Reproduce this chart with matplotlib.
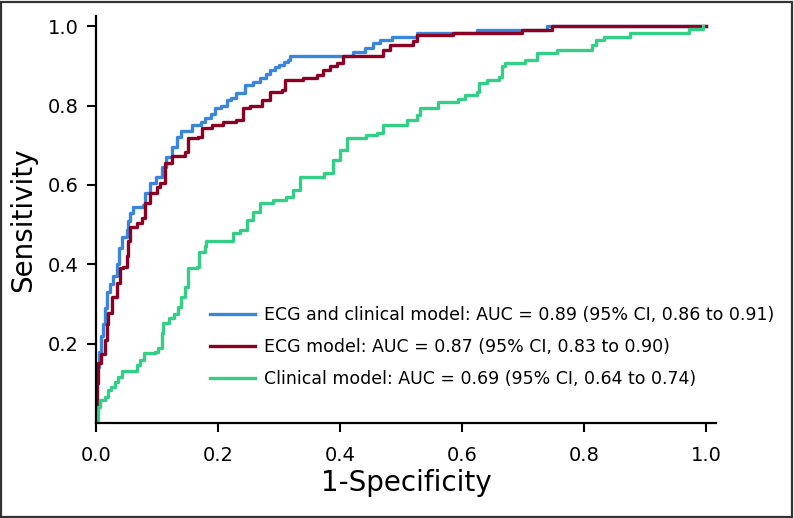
import matplotlib
matplotlib.use("Agg")
import matplotlib.pyplot as plt
from matplotlib.patches import Rectangle

plt.rcParams['font.family'] = ['DejaVu Sans']

combined_fpr = [0.000, 0.000, 0.002, 0.005, 0.008, 0.012, 0.015, 0.018, 0.023, 0.028, 0.034, 0.038,
                0.042, 0.050, 0.053, 0.056, 0.061, 0.077, 0.080, 0.089, 0.098, 0.108, 0.115, 0.124,
                0.132, 0.140, 0.157, 0.172, 0.179, 0.188, 0.195, 0.205, 0.214, 0.222, 0.230, 0.244,
                0.258, 0.269, 0.278, 0.285, 0.293, 0.300, 0.308, 0.315, 0.318, 0.405, 0.421, 0.440,
                0.454, 0.466, 0.485, 0.526, 0.624, 0.739, 1.000]
combined_tpr = [0.000, 0.100, 0.140, 0.180, 0.220, 0.250, 0.290, 0.330, 0.350, 0.370, 0.400, 0.440,
                0.470, 0.487, 0.510, 0.530, 0.545, 0.550, 0.580, 0.605, 0.620, 0.646, 0.670, 0.697,
                0.720, 0.735, 0.750, 0.760, 0.770, 0.780, 0.794, 0.800, 0.815, 0.820, 0.832, 0.852,
                0.860, 0.870, 0.880, 0.890, 0.897, 0.903, 0.910, 0.915, 0.924, 0.924, 0.936, 0.945,
                0.958, 0.966, 0.974, 0.983, 0.991, 1.000, 1.000]

ecg_fpr = [0.000, 0.001, 0.002, 0.004, 0.009, 0.015, 0.018, 0.020, 0.026, 0.034, 0.039, 0.044,
           0.050, 0.053, 0.056, 0.067, 0.075, 0.080, 0.089, 0.100, 0.105, 0.113, 0.124, 0.146,
           0.151, 0.167, 0.173, 0.190, 0.208, 0.230, 0.241, 0.252, 0.272, 0.285, 0.304, 0.310,
           0.340, 0.362, 0.372, 0.384, 0.395, 0.405, 0.470, 0.482, 0.520, 0.526, 0.585, 0.698,
           0.747, 1.000]
ecg_tpr = [0.000, 0.033, 0.100, 0.150, 0.175, 0.210, 0.250, 0.277, 0.318, 0.353, 0.390, 0.394,
           0.420, 0.460, 0.495, 0.504, 0.517, 0.555, 0.580, 0.596, 0.605, 0.656, 0.672, 0.684,
           0.718, 0.722, 0.744, 0.752, 0.760, 0.764, 0.794, 0.800, 0.815, 0.835, 0.840, 0.865,
           0.870, 0.878, 0.890, 0.899, 0.907, 0.924, 0.940, 0.953, 0.962, 0.979, 0.984, 0.991,
           1.000, 1.000]

clin_fpr = [0.000, 0.000, 0.003, 0.007, 0.015, 0.020, 0.025, 0.031, 0.036, 0.042, 0.061, 0.067,
            0.072, 0.078, 0.097, 0.102, 0.108, 0.110, 0.119, 0.127, 0.135, 0.140, 0.146, 0.151,
            0.165, 0.168, 0.179, 0.181, 0.225, 0.236, 0.247, 0.258, 0.269, 0.290, 0.312, 0.323,
            0.334, 0.373, 0.389, 0.400, 0.411, 0.443, 0.460, 0.471, 0.509, 0.526, 0.531, 0.561,
            0.594, 0.605, 0.624, 0.627, 0.640, 0.660, 0.665, 0.670, 0.703, 0.722, 0.755, 0.813,
            0.820, 0.832, 0.875, 0.971, 0.995]
clin_tpr = [0.000, 0.008, 0.040, 0.058, 0.066, 0.083, 0.090, 0.104, 0.117, 0.130, 0.130, 0.146,
            0.160, 0.176, 0.180, 0.190, 0.227, 0.252, 0.265, 0.275, 0.293, 0.318, 0.344, 0.390,
            0.394, 0.432, 0.445, 0.460, 0.478, 0.487, 0.512, 0.533, 0.554, 0.562, 0.570, 0.588,
            0.621, 0.630, 0.663, 0.689, 0.718, 0.726, 0.730, 0.752, 0.764, 0.777, 0.794, 0.810,
            0.818, 0.827, 0.835, 0.856, 0.865, 0.873, 0.899, 0.907, 0.916, 0.933, 0.941, 0.953,
            0.966, 0.974, 0.983, 0.993, 1.000]

labels = ["ECG and clinical model: AUC = 0.89 (95% CI, 0.86 to 0.91)",
          "ECG model: AUC = 0.87 (95% CI, 0.83 to 0.90)",
          "Clinical model: AUC = 0.69 (95% CI, 0.64 to 0.74)"]
colors = ["#3a86da", "#8c0023", "#34cf86"]

xticks = [0.0, 0.2, 0.4, 0.6, 0.8, 1.0]
yticks = [0.2, 0.4, 0.6, 0.8, 1.0]

fig = plt.figure(figsize=(7.94, 5.18), dpi=100)
ax = fig.add_axes([96/794, 1 - 423/518, 620/794, 407/518])

for fx, ty, c, lab in zip([combined_fpr, ecg_fpr, clin_fpr],
                          [combined_tpr, ecg_tpr, clin_tpr], colors, labels):
    ax.plot(fx, ty, drawstyle='steps-post', color=c, lw=2.4, label=lab)

ax.set_xlim(0, 1.016)
ax.set_ylim(0, 1.026)
ax.set_xticks(xticks)
ax.set_xticklabels([f"{v:.1f}" for v in xticks])
ax.set_yticks(yticks)
ax.set_yticklabels([f"{v:.1f}" for v in yticks])
ax.tick_params(axis='both', direction='out', length=6.5, width=1.5, labelsize=14, color='black')
ax.tick_params(axis='x', pad=10)
ax.tick_params(axis='y', pad=6)
for s in ['top', 'right']:
    ax.spines[s].set_visible(False)
for s in ['left', 'bottom']:
    ax.spines[s].set_linewidth(1.6)
ax.set_xlabel("1-Specificity", fontsize=20, labelpad=3)
ax.set_ylabel("Sensitivity", fontsize=20, labelpad=8)

leg = ax.legend(loc='center left', bbox_to_anchor=(0.184, 0.187), frameon=False, fontsize=12.5,
                handlelength=2.6, handletextpad=0.5, labelspacing=0.8, borderaxespad=0, borderpad=0)

fig.add_artist(Rectangle((0.001, 0.001), 0.997, 0.996, transform=fig.transFigure,
                         fill=False, edgecolor='#333333', lw=1.6))

fig.savefig("out.png", dpi=100)
